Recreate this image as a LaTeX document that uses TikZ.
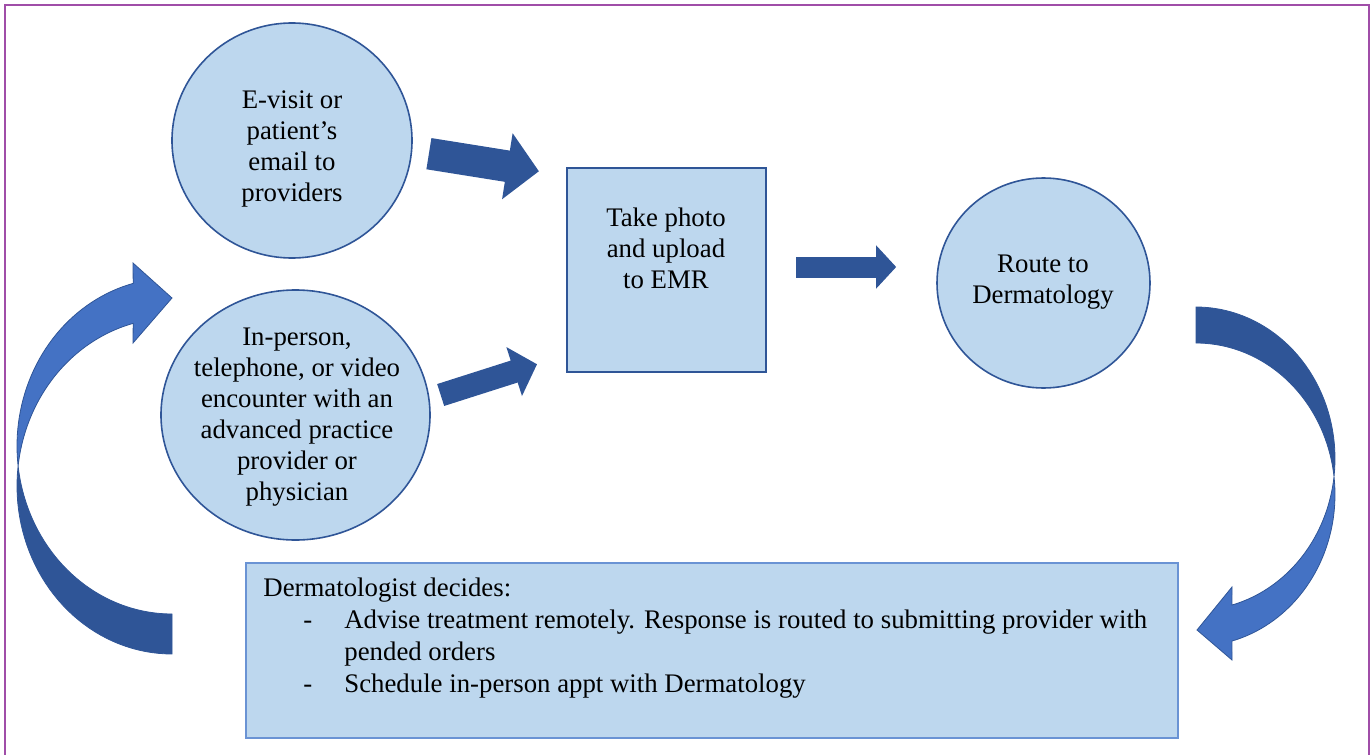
\documentclass[tikz,border=0pt]{standalone}
\usepackage{fontspec}
\setmainfont{Liberation Serif}
\usetikzlibrary{arrows.meta,calc,positioning,shapes.geometric}
\definecolor{Ink}{HTML}{2F5597}
\definecolor{Royal}{HTML}{4472C4}
\definecolor{Sky}{HTML}{BDD7EE}
\definecolor{Edge}{HTML}{6A93D4}
\definecolor{Plum}{HTML}{A04EA8}

\begin{document}
\begin{tikzpicture}[x=0.5pt,y=-0.5pt,
    bubble/.style={ellipse,draw=Ink,fill=Sky,line width=0.8pt,inner sep=0pt},
    words/.style={align=center,inner sep=0pt,font=\fontsize{13.4}{15.5}\selectfont},
    fat/.style={line width=#1,draw=Ink}]
  \useasboundingbox (0,0) rectangle (1372,755);
  \draw[Plum,line width=1pt] (5,760) -- (5,5) -- (1369,5) -- (1369,760);

  % curved return arrows
  \filldraw[fill=Ink,draw=Ink,line width=0.4pt]
    plot[domain=90:186.8,samples=40,variable=\t] ({172+155*cos(\t)},{486+168*sin(\t)})
    -- plot[domain=173.2:90,samples=40,variable=\t] ({172+155*cos(\t)},{446+168*sin(\t)}) -- cycle;
  \filldraw[fill=Royal,draw=Ink,line width=0.4pt]
    plot[domain=186.8:255.5,samples=40,variable=\t] ({172+155*cos(\t)},{486+168*sin(\t)})
    -- (133,343) -- (172,298) -- (133,263)
    -- plot[domain=255.5:173.2,samples=40,variable=\t] ({172+155*cos(\t)},{446+168*sin(\t)}) -- cycle;
  \filldraw[fill=Ink,draw=Ink,line width=0.4pt]
    plot[domain=-90:6.8,samples=40,variable=\t] ({1196+139*cos(\t)},{458.6+151.6*sin(\t)})
    -- plot[domain=-6.8:-90,samples=40,variable=\t] ({1196+139*cos(\t)},{494.6+151.6*sin(\t)}) -- cycle;
  \filldraw[fill=Royal,draw=Ink,line width=0.4pt]
    plot[domain=6.8:75,samples=40,variable=\t] ({1196+139*cos(\t)},{458.6+151.6*sin(\t)})
    -- (1232,587) -- (1197,630) -- (1232,660)
    -- plot[domain=75:-6.8,samples=40,variable=\t] ({1196+139*cos(\t)},{494.6+151.6*sin(\t)}) -- cycle;

  % steps
  \node[bubble,minimum width=120pt,minimum height=117.5pt] (evisit) at (292,140.5) {};
  \node[bubble,minimum width=134.5pt,minimum height=125pt] (inperson) at (295.5,415) {};
  \node[draw=Ink,fill=Sky,line width=1pt,minimum width=99.5pt,minimum height=102pt] (photo) at (666.5,270) {};
  \node[bubble,minimum width=106.5pt,minimum height=105pt] (route) at (1043.5,283) {};
  \node[draw=Edge,fill=Sky,line width=0.8pt,minimum width=466pt,minimum height=87.5pt] (decide) at (712,650.5) {};

  \node[words] (evisit-t) at (292,149) {E-visit or\\patient’s\\email to\\providers};
  \node[words] (inperson-t) at (297,417) {In-person,\\telephone, or video\\encounter with an\\advanced practice\\provider or\\physician};
  \node[words] (photo-t) at (666,248) {Take photo\\and upload\\to EMR};
  \node[words] (route-t) at (1043,282) {Route to\\Dermatology};
  \node[words,align=left,anchor=base west,font=\fontsize{13.4}{16}\selectfont] (decide-t) at (263,692)
    {Dermatologist decides:\\
     \hspace*{20pt}\makebox[20.5pt][l]{-}Advise treatment remotely. Response is routed to submitting provider with\\
     \hspace*{40.5pt}pended orders\\
     \hspace*{20pt}\makebox[20.5pt][l]{-}Schedule in-person appt with Dermatology};

  % straight arrows
  \draw[fat=15.8pt,-{Triangle[length=16pt,width=32.5pt]},shorten <=8.4pt,shorten >=13.7pt]
    (evisit.-5) -- ([yshift=-4.3pt]photo.north west);
  \draw[fat=11.5pt,-{Triangle[length=12pt,width=25pt]},shorten <=5.8pt,shorten >=15.2pt]
    (inperson.7) -- ([yshift=9pt]photo.south west);
  \draw[fat=10.5pt,-{Triangle[length=10pt,width=21pt]},shorten <=14.5pt,shorten >=20pt]
    ([yshift=1.5pt]photo.east) -- ([yshift=8pt]route.west);
\end{tikzpicture}
\end{document}
